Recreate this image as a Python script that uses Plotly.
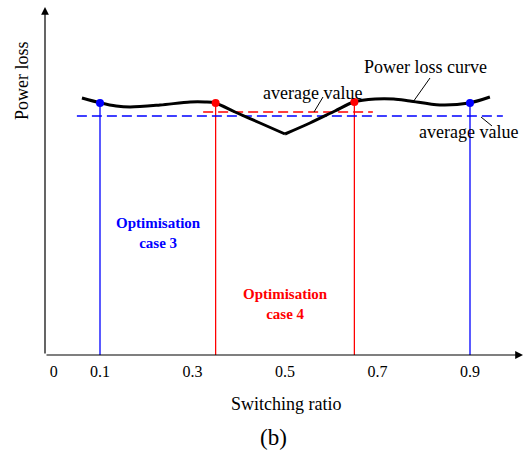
import plotly.graph_objects as go

# Power loss versus switching ratio (schematic units)
ratio = [0.061, 0.102, 0.135, 0.165, 0.23, 0.295, 0.327, 0.349, 0.392, 0.446, 0.5,
         0.554, 0.608, 0.649, 0.695, 0.735, 0.77, 0.835, 0.898, 0.943]
loss = [257, 252, 249, 248, 250, 253, 253, 252, 243, 232, 221,
        232, 244, 253, 256, 256, 254, 250, 252, 258]

# Optimisation case 3: switching ratios and their average loss
case3_ratio = [0.1, 0.9]
case3_loss = [252, 252]
case3_avg = 239
case3_avg_span = [0.05, 0.971]

# Optimisation case 4
case4_ratio = [0.35, 0.65]
case4_loss = [252, 253]
case4_avg = 243
case4_avg_span = [0.323, 0.69]

tick_vals = [0, 0.1, 0.3, 0.5, 0.7, 0.9]
tick_text = ["0", "0.1", "0.3", "0.5", "0.7", "0.9"]

BLUE = "#0000ff"
RED = "#ff0000"
FONT = "Liberation Serif"

fig = go.Figure()

# vertical drop lines from the optimum points to the axis
for xs, ys, col in [(case3_ratio, case3_loss, BLUE), (case4_ratio, case4_loss, RED)]:
    for xv, yv in zip(xs, ys):
        fig.add_trace(go.Scatter(x=[xv, xv], y=[0, yv], mode="lines",
                                 line=dict(color=col, width=1.3), hoverinfo="skip"))

# average value lines
fig.add_trace(go.Scatter(x=case3_avg_span, y=[case3_avg, case3_avg], mode="lines",
                         line=dict(color=BLUE, width=1.5, dash="10px,5px")))
fig.add_trace(go.Scatter(x=case4_avg_span, y=[case4_avg, case4_avg], mode="lines",
                         line=dict(color=RED, width=1.5, dash="10px,5px")))

# power loss curve, split at its sharp minimum
imin = loss.index(min(loss))
for seg in (slice(0, imin + 1), slice(imin, len(loss))):
    fig.add_trace(go.Scatter(x=ratio[seg], y=loss[seg], mode="lines",
                             line=dict(color="black", width=3, shape="spline", smoothing=0.9)))

# optimum points
fig.add_trace(go.Scatter(x=case3_ratio, y=case3_loss, mode="markers",
                         marker=dict(color=BLUE, size=8)))
fig.add_trace(go.Scatter(x=case4_ratio, y=case4_loss, mode="markers",
                         marker=dict(color=RED, size=8)))

PLOT_L, PLOT_W, PLOT_H = 45, 479, 355


def px(xp):
    return (xp - 53.75) / 462.5


def py(yp):
    return 355 - yp


def paper_x(xp):
    return (xp - PLOT_L) / PLOT_W


def paper_y(yp):
    return (PLOT_H - yp) / PLOT_H


# leader lines for labels
leaders = [((430, 78), (413, 102)), ((323, 97), (314, 112)), ((481, 117), (492, 126))]
shapes = []
for (x0, y0), (x1, y1) in leaders:
    shapes.append(dict(type="line", xref="x", yref="y", x0=px(x0), y0=py(y0),
                       x1=px(x1), y1=py(y1), line=dict(color="black", width=1)))

label_font = dict(size=18, family=FONT, color="black")
centered = dict(xanchor="center", yanchor="middle", showarrow=False)

annotations = [
    # axes with arrowheads
    dict(x=px(523), y=0, ax=px(45), ay=0, xref="x", yref="y", axref="x", ayref="y",
         text="", showarrow=True, arrowhead=2, arrowsize=1.3, arrowwidth=1.2, arrowcolor="black"),
    dict(x=px(45), y=py(7), ax=px(45), ay=0, xref="x", yref="y", axref="x", ayref="y",
         text="", showarrow=True, arrowhead=2, arrowsize=1.3, arrowwidth=1.2, arrowcolor="black"),
    dict(x=paper_x(22), y=paper_y(81), xref="paper", yref="paper", text="Power loss",
         textangle=-90, font=label_font, **centered),
    dict(x=paper_x(286), y=paper_y(404), xref="paper", yref="paper", text="Switching ratio",
         font=label_font, **centered),
    dict(x=paper_x(273), y=paper_y(438), xref="paper", yref="paper", text="(b)",
         font=dict(size=23, family=FONT, color="black"), **centered),
    dict(x=px(425), y=py(67), text="Power loss curve", font=label_font, **centered),
    dict(x=px(312), y=py(93), text="average value", font=label_font, **centered),
    dict(x=px(468), y=py(132), text="average value", font=label_font, **centered),
    dict(x=px(158), y=py(233), text="<b>Optimisation<br>case 3</b>",
         font=dict(size=15, family=FONT, color=BLUE), **centered),
    dict(x=px(285), y=py(304), text="<b>Optimisation<br>case 4</b>",
         font=dict(size=15, family=FONT, color=RED), **centered),
]

fig.update_layout(
    width=524, height=451,
    margin=dict(l=PLOT_L, r=0, t=0, b=96),
    paper_bgcolor="white", plot_bgcolor="white",
    showlegend=False,
    shapes=shapes,
    annotations=annotations,
    xaxis=dict(range=[px(45), px(524)], showgrid=False, zeroline=False, showline=False,
               tickvals=tick_vals, ticktext=tick_text, ticks="", ticklabelstandoff=5,
               tickfont=dict(size=16, family=FONT, color="black")),
    yaxis=dict(range=[0, 355], showgrid=False, zeroline=False, showline=False,
               showticklabels=False, ticks=""),
)

fig.write_html("out.html")
